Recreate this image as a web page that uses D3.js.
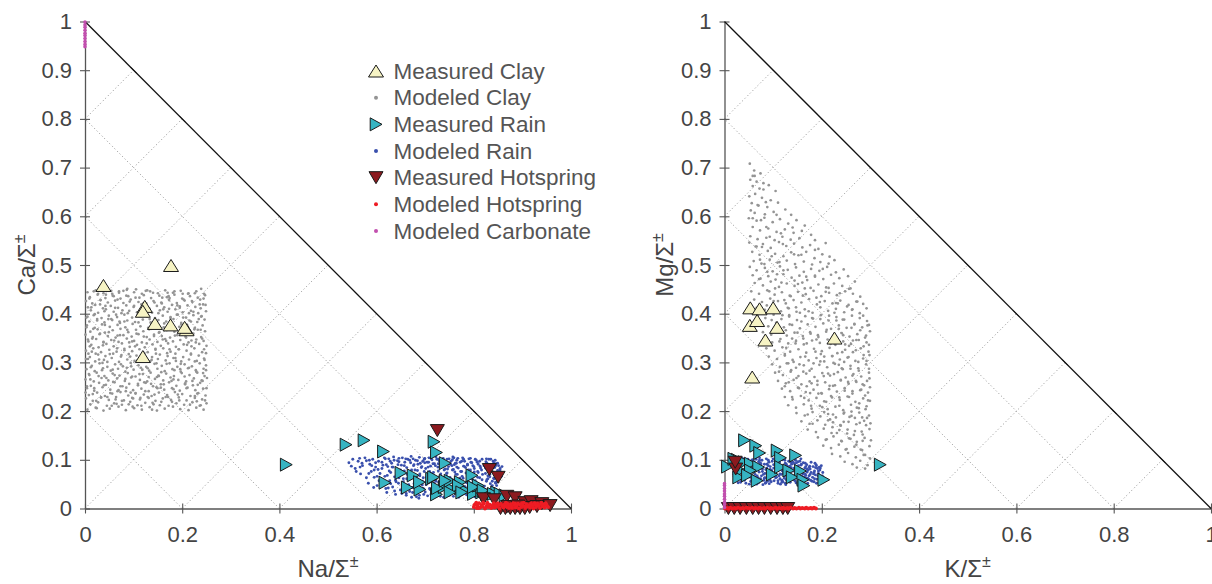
<!DOCTYPE html>
<html><head><meta charset="utf-8">
<script src="https://cdn.jsdelivr.net/npm/d3@7"></script>
<style>
body{margin:0;background:#fff}
text{font-family:"Liberation Sans",Arial,Helvetica,sans-serif}
</style>
</head><body>
<svg id="chart" width="1212" height="584"></svg>
<script>
// Axis tick values
const xTicks = [0, 0.2, 0.4, 0.6, 0.8, 1];
const yTicks = [0, 0.1, 0.2, 0.3, 0.4, 0.5, 0.6, 0.7, 0.8, 0.9, 1];
const edgeTicks = [0.1, 0.2, 0.3, 0.4, 0.5, 0.6, 0.7, 0.8, 0.9];
const gridDiag = [-0.8, -0.6, -0.4, -0.2, 0, 0.2, 0.4, 0.6, 0.8];
const gridAnti = [0.2, 0.4, 0.6, 0.8];

const legendLabels = ["Measured Clay", "Modeled Clay", "Measured Rain", "Modeled Rain",
  "Measured Hotspring", "Modeled Hotspring", "Modeled Carbonate"];

// ---- Na/Σ vs Ca/Σ panel (values in thousandths, flat x,y pairs) ----
const clayModelNaCa = [
5,203,22,207,38,201,51,205,69,209,84,202,101,206,117,203,133,208,148,201,164,205,181,209,196,204,213,202,229,207,244,203,
11,214,27,218,45,211,60,216,76,213,93,219,108,212,124,217,141,214,157,219,172,211,188,216,204,213,221,218,238,212,250,216,
2,226,16,221,33,228,49,223,64,229,80,222,97,227,113,224,129,229,145,221,160,226,177,223,193,228,209,222,226,227,241,224,
8,233,25,238,41,231,56,236,73,239,89,232,104,237,121,234,137,231,152,238,169,233,185,239,200,235,217,231,233,237,248,232,
4,247,19,242,36,249,52,244,67,241,85,248,99,243,116,246,131,241,147,249,163,244,179,247,195,242,211,248,227,243,243,246,
12,252,29,258,43,254,61,259,77,251,91,256,109,253,125,258,140,251,156,255,173,259,188,252,206,257,222,253,237,258,
1,265,18,261,34,268,48,263,66,267,82,262,95,269,113,264,128,261,144,266,161,263,176,269,192,264,208,261,224,267,240,263,251,268,
9,274,24,279,40,272,57,277,71,273,88,278,104,271,119,276,135,279,151,273,167,277,183,272,199,278,215,274,231,279,246,272,
3,286,20,282,37,288,53,283,68,287,83,281,100,285,115,289,132,283,149,287,164,282,180,286,197,281,212,288,228,284,244,287,
14,293,30,298,46,291,62,296,78,292,94,299,110,294,126,291,143,297,158,293,174,298,190,291,205,296,220,292,236,298,249,294,
6,307,21,302,39,305,55,309,70,301,87,306,102,303,118,308,134,302,150,307,166,304,182,309,198,302,214,306,230,303,245,308,
10,311,27,316,42,313,58,318,74,312,90,317,106,314,122,319,138,311,154,316,170,313,186,318,202,311,218,316,234,314,249,319,
2,324,17,329,33,321,50,326,65,322,81,328,97,323,112,327,129,321,145,326,161,329,176,322,193,327,209,324,225,329,241,321,
13,336,28,331,44,338,59,333,76,339,92,332,107,336,123,331,139,337,156,334,171,339,187,332,203,337,219,333,235,338,250,334,
7,343,23,348,38,341,54,346,69,342,86,349,101,344,117,341,133,347,149,342,165,348,181,343,196,346,213,341,229,347,244,344,
1,357,16,352,31,359,47,354,63,351,79,356,96,353,110,358,127,352,142,357,158,354,175,351,190,356,207,353,223,359,239,352,
11,363,26,368,41,361,57,366,73,369,89,362,105,367,120,364,136,369,152,361,168,366,184,363,199,368,216,362,232,367,247,364,
4,376,20,371,35,378,51,373,67,377,83,372,98,379,114,374,130,371,146,376,162,372,178,378,194,373,210,377,226,371,242,376,
9,384,25,389,40,382,56,387,72,381,87,386,103,383,119,388,135,382,151,387,167,384,182,389,198,381,215,386,231,383,246,388,
3,392,18,397,34,391,49,396,66,393,81,398,97,392,113,397,128,394,144,391,160,396,176,393,191,398,208,392,223,397,239,394,
12,407,27,402,43,409,59,404,75,401,91,406,107,403,123,408,138,402,154,407,170,404,186,409,201,403,218,406,233,401,249,405,
6,413,21,418,37,411,53,416,68,412,85,417,100,414,116,419,132,411,148,416,163,413,179,418,195,412,211,417,227,414,243,419,
2,426,15,421,32,428,47,423,62,427,79,422,94,429,110,424,126,421,141,426,157,423,173,428,189,422,205,427,221,424,237,429,
10,434,26,439,42,432,57,437,73,431,89,436,104,433,121,438,136,432,153,437,169,434,184,439,200,431,216,436,232,433,247,438,
5,444,22,448,38,442,54,447,70,443,86,449,101,444,117,441,134,446,150,442,165,448,181,443,197,447,213,442,229,446,245,441,
7,318,131,227,88,401,214,289,49,362,172,436,236,211,19,247,103,333,157,280,65,215,198,378,31,419,142,354,226,442,83,266,
117,396,245,327,12,290,179,219,56,441,208,351,94,238,161,409,37,335,128,448,221,262,71,384,187,303,3,372,149,247,240,395,
24,206,112,276,203,429,46,301,167,344,92,425,231,236,15,349,138,203,61,274,195,415,106,359,249,284,33,228,176,391,79,447,
218,318,54,389,124,241,182,265,9,431,146,318,67,355,239,451,98,209,211,373,28,272,159,433,115,307,42,416,191,234,136,381,
74,296,223,404,1,238,168,297,87,367,247,222,20,399,131,270,59,436,206,255,97,343,184,446,39,253,153,362,228,341,76,221,
120,421,14,322,196,286,64,398,143,234,238,367,27,441,109,256,174,327,51,317,216,213,85,437,162,255,5,394,127,339,244,431,
69,243,189,398,35,284,101,416,154,212,226,302,17,369,140,443,81,325,209,247,46,229,173,410,118,285,234,389,62,412,193,327,
11,265,133,389,90,214,220,426,29,306,152,272,72,356,242,262,41,377,166,229,105,450,199,357,23,221,124,308,58,260,177,371,
95,292,236,419,13,413,147,298,84,241,214,401,38,342,182,245,110,382,250,247,66,329,158,421,2,307,136,256,229,281,77,407,
194,222,44,268,121,353,170,443,99,226,210,336,25,386,145,328,55,211,241,349,112,433,186,309,8,276,163,380,73,251,226,231,
32,428,139,217,93,312,201,441,48,389,129,288,218,384,16,235,178,262,87,451,246,305,60,345,151,401,104,236,190,417,36,299,
169,319,125,447,232,254,6,347,114,227,67,429,205,271,22,318,156,248,81,384,238,411,52,237,132,368,197,297,97,271,174,432,
43,439,219,345,116,211,30,358,148,270,75,315,212,441,4,251,185,355,108,398,243,278,57,285,171,229,91,341,225,368,18,446,
137,305,63,224,202,392,40,405,160,347,122,259,248,418,70,446,184,284,10,333,143,423,86,289,230,220
];
const rainModelNaCa = [
543,94,551,101,556,82,562,97,567,71,571,88,576,104,579,63,548,87,565,103,
583,52,586,91,589,76,592,101,595,64,598,85,601,47,604,97,607,72,610,58,613,89,616,104,619,41,585,99,594,43,603,80,611,95,617,66,
621,33,623,86,625,102,627,57,629,74,631,93,633,44,635,106,637,65,639,29,641,81,643,98,645,52,647,71,649,38,651,89,653,104,655,61,657,77,659,46,622,68,628,97,634,85,640,55,646,103,652,31,658,95,644,90,
661,27,662,84,664,101,665,59,667,73,668,42,670,94,671,107,673,66,674,33,676,88,677,51,679,79,680,99,682,24,683,62,685,91,686,45,688,105,689,71,691,37,692,84,694,56,695,97,697,29,698,76,699,103,666,49,672,23,678,64,684,78,690,93,696,41,687,21,675,102,
701,82,702,49,704,95,705,26,707,68,708,104,710,39,711,87,713,57,714,100,716,22,717,74,719,92,720,46,722,106,723,63,725,31,726,85,728,54,729,98,731,25,732,71,734,90,735,43,737,103,738,60,739,79,703,64,709,76,715,35,721,88,727,45,733,58,736,95,712,29,724,101,730,66,718,52,
741,93,742,34,744,72,745,101,747,51,748,86,750,27,751,64,753,97,754,42,756,79,757,106,759,58,760,90,762,31,763,70,765,99,766,47,768,83,769,23,771,62,772,95,774,38,775,76,777,104,778,54,779,87,743,57,749,39,755,88,761,75,767,103,773,44,746,81,758,25,764,93,770,29,776,66,
781,97,782,45,784,73,785,28,787,89,788,60,790,102,791,37,793,79,794,52,796,94,797,33,799,68,800,86,802,24,803,57,805,99,806,41,808,76,809,91,811,30,812,63,814,83,815,48,817,101,818,70,819,36,783,84,789,66,795,43,801,75,807,95,813,27,786,55,798,88,804,32,810,50,816,79,
821,88,822,46,824,72,825,96,827,59,828,38,830,83,831,101,833,65,834,51,836,90,837,44,839,75,840,97,842,61,843,84,845,54,846,92,848,69,849,78,851,88,852,63,854,82,855,72,857,66,858,86,823,31,829,67,835,79,841,93,847,47,826,102,838,56,844,99,850,58,
611,82,694,48,752,91,817,59,668,99,733,37,789,79,646,63,707,95,771,29,839,84,584,72,722,56,803,101,657,88,744,66,796,44,683,31,
827,93,629,51,765,85,712,103,851,69,598,94,738,23,778,62,663,70,821,40,693,86,757,45,636,99,808,64,749,102,681,55,832,78,566,85,
727,77,792,26,654,40,775,97,705,60,845,88,620,90,761,35,698,101,813,87,673,43,741,81,857,74,601,66,785,53,716,92,649,79,799,36,
732,99,558,76,766,70,688,27,826,56,637,36,753,59,794,95,709,41,841,62,626,77,779,101,677,90,818,29,745,73,590,88,703,53,769,49,
660,102,833,70,721,28,787,91,641,69,756,100,696,63,849,93,615,48,736,88,806,52,668,35,773,76,712,72,824,83,579,98,748,31,684,98,
797,60,632,85,762,93,700,34,838,47,655,55,783,41,726,101,812,97,605,57,743,50,672,79,829,61,718,39,854,79,646,96,790,70,734,63,
661,31,801,82,689,67,759,104,624,42,776,33,706,85,845,52,570,93,740,95,816,45,680,47,767,55,595,79,727,92,793,103,639,58,809,74,
699,94,758,80,618,102,835,101,662,61,781,86,715,48,847,72
];
const hotModelNaCa = [
800,3,803,9,806,1,808,6,811,11,813,2,816,7,818,4,821,10,823,0,826,5,828,12,831,3,833,8,836,1,838,6,841,11,843,2,846,9,848,4,
851,7,853,0,856,10,858,5,861,2,863,8,866,12,868,3,871,6,873,1,876,9,878,4,881,11,883,7,886,2,888,5,891,10,893,0,896,8,898,3,
901,6,903,12,906,1,908,9,911,4,913,7,916,2,918,11,921,5,923,0,926,8,928,3,931,10,933,6,936,1,938,9,941,4,943,7,946,2,948,11,
951,5,953,3,801,7,810,1,819,12,829,8,839,3,849,11,859,6,869,10,879,1,889,8,899,11,909,5,919,8,929,6,939,12,949,8,
805,12,825,2,845,6,865,5,885,10,905,4,925,11,945,9
];
const carbModelNaCa = [0,999,0,993,0,988,0,982,0,976,0,971,0,965,0,959,0,953,0,948];

const clayMeasNaCa = [38,458,177,499,123,415,119,405,144,380,176,377,209,367,205,372,119,312];
const rainMeasNaCa = [
414,90,537,131,574,140,614,117,718,137,723,115,741,93,650,73,675,68,617,53,663,43,689,39,688,54,713,61,723,29,739,44,
717,64,725,42,754,40,772,42,782,37,796,68,799,30,816,33,826,30,847,33,809,47,772,54,751,57,741,57,768,47,799,44,819,37,
840,30,854,30,864,27,775,33,751,33
];
const hotMeasNaCa = [
725,160,832,80,850,64,820,20,842,18,868,25,885,22,905,12,918,14,940,10,957,6,855,0,865,0,875,0,885,0,895,0,905,0,915,2,930,4,870,4,890,5
];

// ---- K/Σ vs Mg/Σ panel ----
const clayModelKMg = [
52,708,61,694,74,688,58,683,
53,675,66,671,80,668,58,662,72,657,91,664,105,652,
51,641,63,646,77,638,95,633,56,627,70,622,88,619,110,628,125,614,62,607,83,604,101,609,137,603,54,612,
50,596,66,591,82,597,99,588,114,594,131,585,148,592,165,581,58,578,73,571,90,575,107,568,124,573,142,566,159,570,178,562,53,559,68,553,86,556,103,551,119,558,136,552,154,555,186,551,
51,546,64,538,79,543,95,535,112,547,127,539,143,544,160,536,176,541,193,533,208,545,57,527,72,521,89,529,104,523,121,518,137,526,152,520,168,527,185,514,201,522,216,517,60,508,76,503,93,511,109,505,128,509,145,502,163,507,180,501,197,506,214,503,226,510,
52,496,66,489,83,494,99,487,114,497,130,490,147,495,163,486,178,492,195,488,211,496,229,485,245,491,58,479,74,472,90,477,105,470,121,481,138,474,154,478,170,469,186,476,203,471,219,480,236,473,254,477,62,463,79,458,95,466,112,455,128,462,144,457,160,464,177,453,193,460,209,454,225,462,242,457,259,452,268,466,
55,446,71,441,88,448,103,439,118,444,134,437,151,445,167,440,183,447,199,436,215,443,231,438,248,446,264,441,279,435,61,429,77,424,94,431,110,426,126,421,142,428,158,423,174,430,190,419,206,426,222,421,238,427,255,418,271,425,285,420,66,412,83,408,99,414,116,405,132,411,148,404,165,409,181,402,197,413,213,406,229,410,246,403,262,408,278,401,292,411,
68,396,84,391,101,398,117,389,133,394,149,387,166,395,182,390,198,397,214,386,230,393,246,388,262,396,278,391,293,385,74,379,90,374,106,381,122,372,139,377,155,370,171,378,187,373,203,380,219,369,235,376,251,371,267,379,283,372,297,377,79,362,96,357,112,364,128,355,144,361,161,354,177,359,193,352,209,363,225,356,241,360,257,353,273,358,289,351,299,364,
82,346,98,341,115,348,131,339,147,344,163,337,180,345,196,340,212,347,228,336,244,343,260,338,276,346,292,341,86,329,103,324,119,331,135,322,152,327,168,320,184,328,200,323,216,330,232,319,248,326,264,321,280,329,296,322,91,312,108,307,124,314,140,305,156,311,173,304,189,309,205,302,221,313,237,306,253,310,269,303,285,308,298,315,
98,296,114,291,131,298,147,289,163,294,179,287,195,295,211,290,227,297,243,286,259,293,275,288,291,296,104,279,120,274,136,281,152,272,168,277,185,270,201,278,217,273,233,280,249,269,265,276,281,271,297,279,110,262,126,257,142,264,158,255,175,261,191,254,207,259,223,252,239,263,255,256,271,260,287,253,
118,246,135,241,151,248,167,239,183,244,199,237,215,245,231,240,247,247,263,236,279,243,295,238,124,229,140,224,157,231,173,222,189,227,205,220,221,228,237,223,253,230,269,219,285,226,299,221,131,212,147,207,163,214,179,205,196,211,212,204,228,209,244,202,260,213,276,206,292,210,
148,196,165,191,181,198,197,189,213,194,229,187,245,195,261,190,277,197,293,186,158,179,175,174,191,181,207,172,223,177,239,170,255,178,271,173,287,180,300,175,171,162,188,157,204,164,220,155,236,161,252,154,268,159,284,152,298,163,
192,146,208,141,224,148,240,139,256,144,272,137,288,145,301,140,203,129,219,124,235,131,251,122,267,127,283,120,298,128,221,112,238,107,254,114,270,105,286,110,299,103,
247,96,263,91,279,98,294,89,272,84,289,82,
217,183,263,241,198,317,284,139,155,402,241,288,126,366,272,207,189,433,231,155,104,452,256,334,169,251,293,262,142,301,215,396,
87,417,278,176,236,228,162,349,249,121,121,489,204,272,286,315,178,211,97,387,267,378,223,193,136,436,295,222,192,356,253,162,
148,268,71,471,233,421,281,244,166,312,210,142,113,343,259,287,186,478,297,191,139,229,244,356,82,502,227,253,271,131,158,384,
205,312,291,355,119,397,246,197,175,283,66,538,263,409,132,259,218,338,289,110,193,236,101,426,275,301,151,461,239,264,213,181,
124,317,285,396,173,405,256,229,93,558,224,299,143,522,266,151,197,389,112,281,248,337,181,174,299,249,134,378,229,422,75,592,
261,199,164,227,208,445,279,366,120,543,238,171,187,322,297,287,146,339,219,231,88,486,270,262,165,452,243,388,107,603,282,158,
201,208,130,412,255,311,176,362,213,277,68,623,290,204,154,296,232,346,97,518,273,425,191,262,259,143,117,464,226,402,171,193,
286,333,139,349,247,242,80,655,210,367,268,186,158,521,235,295,124,251,294,376,183,298,252,415,103,372,222,167,276,283,147,413,
200,236,58,596,264,345,186,531,241,138,128,298,214,453,289,232,162,281,235,369,92,446,254,260,180,391,116,565,270,325,205,198,
144,468,283,187,226,339,77,537,246,301,169,339,298,267,133,397,216,252,62,683,261,371,196,424,108,481,277,216,153,247,237,442,
85,629,292,303,179,257,225,276,123,428,257,188,197,302,140,577,284,255,168,476,242,321,99,408,271,346,209,219,150,361,236,211,
73,511,291,171,189,347,230,386,113,506,263,273,176,237,256,451,137,284,222,313,297,336,161,437,245,178,202,492,86,578,280,121,127,330
];
const rainModelKMg = [
17,92,19,74,21,101,23,61,25,85,27,96,29,68,31,79,33,54,35,90,37,103,39,72,41,58,43,86,45,97,47,65,49,81,51,50,53,93,55,76,57,60,59,88,22,82,28,53,34,99,40,64,46,89,52,71,58,100,20,66,44,52,56,83,
61,96,62,57,64,79,65,101,67,67,68,89,70,53,71,75,73,94,74,61,76,84,77,99,79,49,80,70,82,91,83,63,85,80,86,102,88,56,89,73,91,95,92,51,94,86,95,67,97,78,98,97,63,88,69,63,75,92,81,58,87,83,93,60,99,70,66,50,72,99,78,76,84,52,90,88,96,55,
101,90,102,57,104,74,105,98,107,64,108,85,110,52,111,79,113,95,114,61,116,88,117,70,119,100,120,55,122,82,123,66,125,93,126,49,128,76,129,87,131,60,132,97,134,71,135,54,137,84,138,91,103,68,109,93,115,50,121,72,127,59,133,81,139,63,106,81,112,67,118,58,124,99,130,69,136,95,
141,77,142,59,144,92,145,68,147,53,148,85,150,73,151,96,153,61,154,81,156,50,157,89,159,66,160,76,162,94,163,57,165,83,166,71,168,62,169,90,171,52,172,79,174,67,175,87,177,58,178,74,143,83,149,63,155,97,161,71,167,86,173,60,146,99,152,56,158,80,164,65,170,75,176,81,
181,64,182,86,184,55,185,77,187,69,188,90,190,60,191,82,193,72,194,53,196,79,197,66,199,88,200,58,202,74,183,71,189,52,195,85,201,67,186,93,
24,77,87,91,143,66,56,99,118,54,174,84,36,63,101,83,160,59,70,96,129,74,192,67,45,84,93,58,152,88,27,102,111,92,180,56,63,70,
137,102,78,81,123,62,197,83,31,88,148,71,85,53,166,93,53,64,107,97,184,74,40,95,132,55,73,89,155,65,19,70,97,75,171,62,61,81,
120,86,203,63,48,101,139,79,82,62,164,55,35,57,114,71,189,88,68,58,127,91,157,102,26,94,105,63,176,70,50,73,134,87,90,99,199,55,
58,91,145,57,38,79,116,104,169,81,76,67,125,52,185,61,43,66,100,102,158,91,65,87,136,63,94,80,178,95,30,72,110,57,148,94,83,72,
193,77,54,56,130,83,167,68,72,104,119,77,42,90,151,50,99,66,187,84,60,62,141,95
];
const hotModelKMg = [
1,0,5,1,9,0,12,2,16,0,21,1,24,0,28,2,33,0,37,1,40,0,45,2,48,1,52,0,57,2,61,0,64,1,69,0,72,2,76,0,81,1,84,0,88,2,93,0,
96,1,100,0,105,2,108,0,112,1,117,0,120,2,124,0,129,1,132,0,136,2,141,0,144,1,148,0,153,2,156,0,160,1,165,0,168,2,172,0,177,1,180,0,184,2,188,0
];
const carbModelKMg = [0,2,0,8,0,13,0,19,0,25,0,30,0,36,0,41,0,47,0,51];

const clayMeasKMg = [53,412,72,410,100,412,52,376,67,386,108,372,84,346,226,350,57,270];
const rainMeasKMg = [
41,140,64,129,72,114,108,119,115,104,146,109,6,86,26,100,40,95,53,92,70,85,33,78,53,78,29,64,47,68,67,57,98,70,
115,85,132,78,156,77,139,64,161,59,163,47,204,59,19,102,320,90
];
const hotMeasKMg = [23,81,22,95,8,0,20,0,32,0,45,0,58,0,70,0,82,0,95,0,108,0,120,0,130,0];

// ---- styles ----
const colors = {
  clayMeas: "#f6f3c4", clayModel: "#949494",
  rainMeas: "#36b4c2", rainModel: "#3a50ad",
  hotMeas: "#8c1a1f", hotModel: "#ee1c24",
  carbModel: "#c24fae"
};
const markerPaths = {
  up: "M0,-6L7.5,6L-7.5,6Z",
  right: "M6,0L-5.8,-6.5L-5.8,6.5Z",
  down: "M0,6L7,-6L-7,-6Z"
};

const pairs = a => {
  const out = [];
  for (let i = 0; i < a.length; i += 2) out.push([a[i] / 1000, a[i + 1] / 1000]);
  return out;
};

const svg = d3.select("#chart");
const Y0 = 508.5, Y1 = 21.5;

const panels = [
  { x0: 85, x1: 571, xName: "Na", yName: "Ca", yTitleX: 35,
    clayModel: clayModelNaCa, rainModel: rainModelNaCa, hotModel: hotModelNaCa, carbModel: carbModelNaCa,
    clayMeas: clayMeasNaCa, rainMeas: rainMeasNaCa, hotMeas: hotMeasNaCa },
  { x0: 724.5, x1: 1211, xName: "K", yName: "Mg", yTitleX: 673,
    clayModel: clayModelKMg, rainModel: rainModelKMg, hotModel: hotModelKMg, carbModel: carbModelKMg,
    clayMeas: clayMeasKMg, rainMeas: rainMeasKMg, hotMeas: hotMeasKMg }
];

const fmt = d => String(+d.toFixed(1));

panels.forEach(p => {
  const x = d3.scaleLinear().domain([0, 1]).range([p.x0, p.x1]);
  const y = d3.scaleLinear().domain([0, 1]).range([Y0, Y1]);
  const g = svg.append("g");

  // dotted guide lines inside the triangle
  const grid = g.append("g").attr("stroke", "#8e8e8e").attr("stroke-width", 1)
    .attr("stroke-dasharray", "1,2.6").attr("fill", "none");
  gridDiag.forEach(c => {
    const a = c >= 0 ? [0, c] : [-c, 0];
    const b = [(1 - c) / 2, (1 + c) / 2];
    grid.append("line").attr("x1", x(a[0])).attr("y1", y(a[1])).attr("x2", x(b[0])).attr("y2", y(b[1]));
  });
  gridAnti.forEach(c => {
    grid.append("line").attr("x1", x(c)).attr("y1", y(0)).attr("x2", x(0)).attr("y2", y(c));
  });

  // axes
  const yAxis = g.append("g").attr("transform", `translate(${x(0)},0)`)
    .call(d3.axisLeft(y).tickValues(yTicks).tickFormat(fmt).tickSize(5).tickSizeOuter(0).tickPadding(8));
  yAxis.selectAll(".tick line").attr("x1", 5);
  const xAxis = g.append("g").attr("transform", `translate(0,${y(0)})`)
    .call(d3.axisBottom(x).tickValues(xTicks).tickFormat(fmt).tickSize(5).tickSizeOuter(0).tickPadding(12.8));
  xAxis.selectAll(".tick line").attr("y1", -5);
  [yAxis, xAxis].forEach(ax => {
    ax.select(".domain").attr("stroke", "#555").attr("stroke-width", 1.3);
    ax.selectAll(".tick line").attr("stroke", "#555").attr("stroke-width", 1.1);
    ax.selectAll(".tick text").attr("fill", "#444").style("font-size", "22px")
      .style("font-family", '"Liberation Sans",Arial,sans-serif');
  });

  // hypotenuse with small ticks
  g.append("line").attr("x1", x(0)).attr("y1", y(1)).attr("x2", x(1)).attr("y2", y(0))
    .attr("stroke", "#111").attr("stroke-width", 1.3);
  g.append("g").selectAll("line").data(edgeTicks).join("line")
    .attr("x1", d => x(d) - 3).attr("y1", d => y(1 - d) - 3)
    .attr("x2", d => x(d) + 3).attr("y2", d => y(1 - d) + 3)
    .attr("stroke", "#111").attr("stroke-width", 1);

  const dots = (arr, color, r) => g.append("g").selectAll("circle").data(pairs(arr)).join("circle")
    .attr("cx", d => x(d[0])).attr("cy", d => y(d[1])).attr("r", r).attr("fill", color);
  const marks = (arr, color, shape) => g.append("g").selectAll("path").data(pairs(arr)).join("path")
    .attr("d", markerPaths[shape]).attr("transform", d => `translate(${x(d[0])},${y(d[1])})`)
    .attr("fill", color).attr("stroke", "#1a1a1a").attr("stroke-width", 1).attr("stroke-linejoin", "miter");

  dots(p.clayModel, colors.clayModel, 1.35);
  dots(p.rainModel, colors.rainModel, 1.45);
  marks(p.clayMeas, colors.clayMeas, "up");
  marks(p.rainMeas, colors.rainMeas, "right");
  marks(p.hotMeas, colors.hotMeas, "down");
  dots(p.hotModel, colors.hotModel, 1.9);
  dots(p.carbModel, colors.carbModel, 1.8);

  // axis titles
  const xt = g.append("text").attr("x", x(0.5)).attr("y", 577).attr("text-anchor", "middle")
    .attr("fill", "#444").style("font-size", "24px");
  xt.append("tspan").text(p.xName + "/Σ");
  xt.append("tspan").text("±").attr("dy", -10).style("font-size", "16px");
  const yt = g.append("text").attr("transform", `translate(${p.yTitleX},${y(0.5)}) rotate(-90)`)
    .attr("text-anchor", "middle").attr("fill", "#444").style("font-size", "24px");
  yt.append("tspan").text(p.yName + "/Σ");
  yt.append("tspan").text("±").attr("dy", -10).style("font-size", "16px");
});

// legend
const legendKinds = [
  { kind: "mark", shape: "up", color: colors.clayMeas },
  { kind: "dot", color: colors.clayModel },
  { kind: "mark", shape: "right", color: colors.rainMeas },
  { kind: "dot", color: colors.rainModel },
  { kind: "mark", shape: "down", color: colors.hotMeas },
  { kind: "dot", color: colors.hotModel },
  { kind: "dot", color: colors.carbModel }
];
const lg = svg.append("g");
legendLabels.forEach((label, i) => {
  const cy = 71 + i * 26.67;
  const k = legendKinds[i];
  if (k.kind === "mark") {
    lg.append("path").attr("d", markerPaths[k.shape]).attr("transform", `translate(376,${cy})`)
      .attr("fill", k.color).attr("stroke", "#1a1a1a").attr("stroke-width", 1);
  } else {
    lg.append("circle").attr("cx", 376).attr("cy", cy).attr("r", 2).attr("fill", k.color);
  }
  lg.append("text").attr("x", 393.5).attr("y", cy + 7.8).attr("fill", "#555")
    .style("font-size", "22.5px").text(label);
});
</script>
</body></html>
